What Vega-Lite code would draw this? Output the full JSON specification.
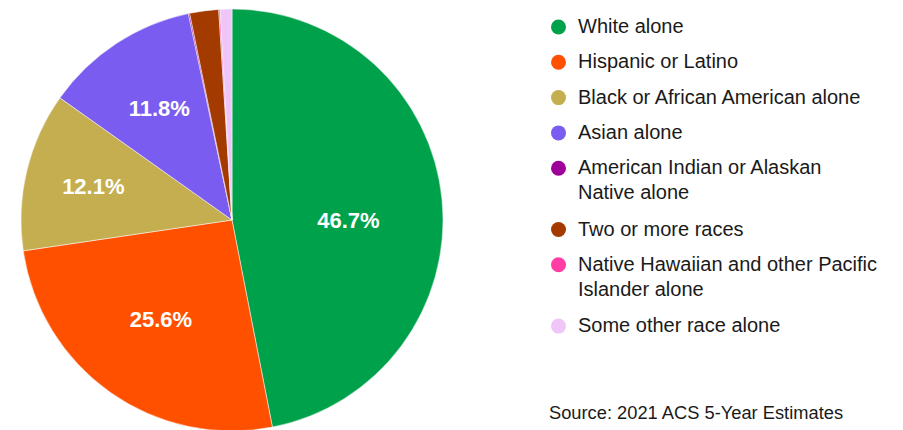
{
  "$schema": "https://vega.github.io/schema/vega-lite/v6.json",
  "width": 422,
  "height": 422,
  "padding": {"left": 20, "top": 8, "right": 0, "bottom": 0},
  "background": "white",
  "config": {
    "view": {"stroke": null},
    "font": "Liberation Sans",
    "style": {"guide-label": {"lineHeight": 25.3}}
  },
  "title": {
    "text": "Source: 2021 ACS 5-Year Estimates",
    "orient": "bottom",
    "anchor": "start",
    "frame": "group",
    "offset": 0,
    "dx": 528,
    "dy": -27,
    "fontSize": 18.3,
    "fontWeight": "normal",
    "color": "#1a1a1a",
    "font": "Liberation Sans"
  },
  "data": {
    "values": [
      {"group": "White alone", "pct": 46.7, "label": "46.7%"},
      {"group": "Hispanic or Latino", "pct": 25.6, "label": "25.6%"},
      {"group": "Black or African American alone", "pct": 12.1, "label": "12.1%"},
      {"group": "Asian alone", "pct": 11.8, "label": "11.8%"},
      {"group": "American Indian or Alaskan Native alone", "pct": 0.1, "label": ""},
      {"group": "Two or more races", "pct": 2.2, "label": ""},
      {"group": "Native Hawaiian and other Pacific Islander alone", "pct": 0.1, "label": ""},
      {"group": "Some other race alone", "pct": 0.9, "label": ""}
    ]
  },
  "transform": [{"window": [{"op": "row_number", "as": "i"}]}],
  "layer": [
    {
      "mark": {"type": "arc", "stroke": "white", "strokeWidth": 0.5},
      "encoding": {
        "theta": {"field": "pct", "type": "quantitative", "stack": true},
        "order": {"field": "i", "type": "quantitative"},
        "color": {
          "field": "group",
          "type": "nominal",
          "sort": null,
          "scale": {
            "domain": ["White alone", "Hispanic or Latino", "Black or African American alone", "Asian alone", "American Indian or Alaskan Native alone", "Two or more races", "Native Hawaiian and other Pacific Islander alone", "Some other race alone"],
            "range": ["#00A14B", "#FF5000", "#C4AE50", "#7B5CF0", "#A0009A", "#A33A00", "#FF3DA5", "#F0C6F8"]
          },
          "legend": {
            "orient": "none",
            "legendX": 527.5,
            "legendY": 8,
            "title": null,
            "padding": 0,
            "symbolType": "circle",
            "symbolSize": 225,
            "symbolStrokeWidth": 0,
            "labelFontSize": 20,
            "labelFont": "Liberation Sans",
            "labelColor": "#1a1a1a",
            "labelOffset": 9.5,
            "labelLimit": 500,
            "rowPadding": 15.3,
            "labelExpr": "datum.value == 'American Indian or Alaskan Native alone' ? ['American Indian or Alaskan', 'Native alone'] : datum.value == 'Native Hawaiian and other Pacific Islander alone' ? ['Native Hawaiian and other Pacific', 'Islander alone'] : datum.label",
            "encode": {
              "labels": {
                "enter": {"lineHeight": {"value": 25.3}},
                "update": {"lineHeight": {"value": 25.3}}
              },
              "symbols": {
                "update": {
                  "shape": {"signal": "datum.value == 'American Indian or Alaskan Native alone' || datum.value == 'Native Hawaiian and other Pacific Islander alone' ? 'M1,-1.687A1,1,0,1,1,-1,-1.687A1,1,0,1,1,1,-1.687Z' : 'circle'"}
                }
              }
            }
          }
        }
      }
    },
    {
      "mark": {
        "type": "text",
        "font": "Liberation Sans",
        "fontSize": 22,
        "fontWeight": "bold",
        "color": "white",
        "align": "center",
        "baseline": "middle",
        "radius": {"expr": "datum.group == 'Black or African American alone' ? 142.6 : datum.group == 'Asian alone' ? 132.6 : datum.group == 'White alone' ? 117 : 123"},
        "dy": {"expr": "datum.group == 'White alone' ? 12 : 0"}
      },
      "encoding": {
        "theta": {"field": "pct", "type": "quantitative", "stack": true},
        "order": {"field": "i", "type": "quantitative"},
        "text": {"field": "label"}
      }
    }
  ]
}
